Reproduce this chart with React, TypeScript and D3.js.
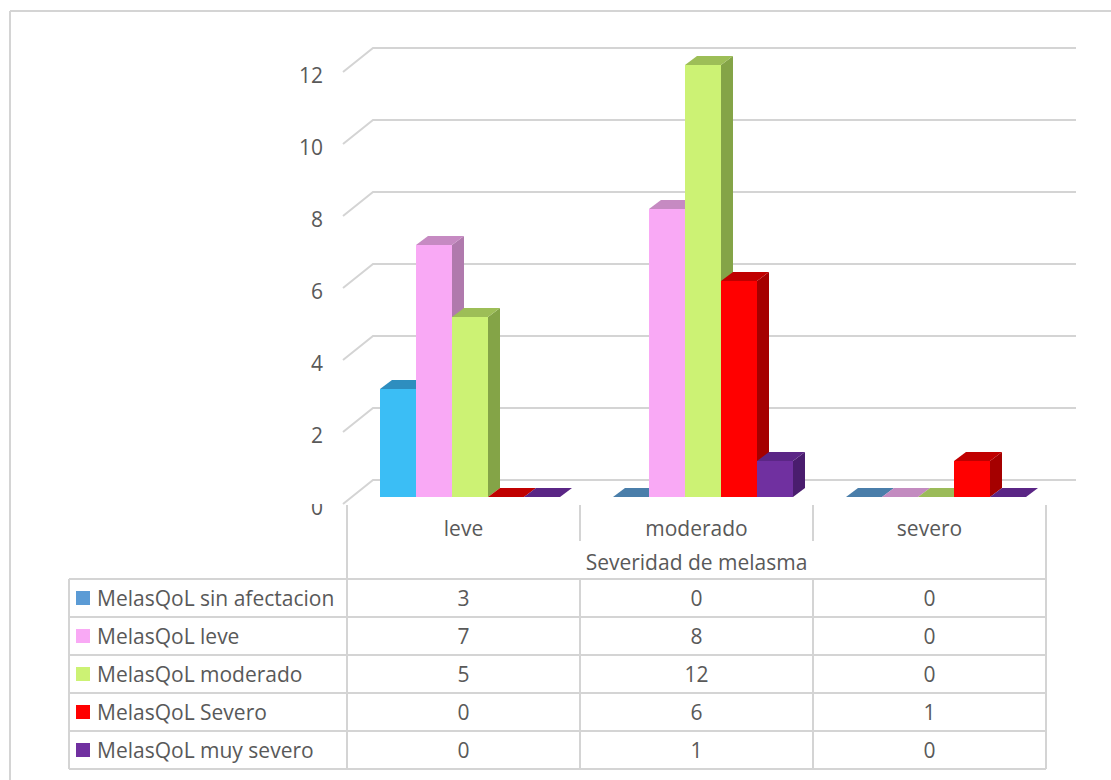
import React from "react";
import * as d3 from "d3";

const categories = ["leve", "moderado", "severo"];
const seriesNames = [
  "MelasQoL sin afectacion",
  "MelasQoL leve",
  "MelasQoL moderado",
  "MelasQoL Severo",
  "MelasQoL muy severo",
];
const seriesValues: number[][] = [
  [3, 0, 0],
  [7, 8, 0],
  [5, 12, 0],
  [0, 6, 1],
  [0, 1, 0],
];
const yTicks = [0, 2, 4, 6, 8, 10, 12];
const axisTitle = "Severidad de melasma";

const legendColors = ["#5B9BD5", "#F9A9F5", "#CCF274", "#FF0000", "#7030A0"];
const frontColors = ["#3BBEF5", "#F9A9F5", "#CCF274", "#FF0000", "#7030A0"];
const sideColors = ["#2A86B5", "#B07AAD", "#84A447", "#A50000", "#4A1D6E"];
const topColors = ["#2E8EBF", "#C68AC2", "#9DBE57", "#C00000", "#5B2686"];
const flatColors = ["#4A7EAA", "#C38BC0", "#9BBB59", "#C00000", "#5A2585"];

const FONT = "'Open Sans', sans-serif";
const TXT = "#595959";
const GRID = "#D4D4D4";
const FS = 21;

export default function App() {
  const yBack = d3.scaleLinear().domain([0, 12]).range([480, 48]);
  const wallLeft = 373;
  const wallRight = 1076;
  const depthX = -30;
  const depthY = 24;
  const barFrontOffset = 17;
  const bdx = 12;
  const bdy = -9;

  const tableLeft = 69;
  const legendRight = 347;
  const tableRight = 1046;
  const xCat = d3.scaleBand<string>().domain(categories).range([legendRight, tableRight]);
  const xSeries = d3
    .scaleBand<string>()
    .domain(seriesNames)
    .range([33, 33 + 36 * seriesNames.length]);

  const rowTop = 579;
  const rowH = 38;
  const rows = d3.range(seriesNames.length + 1).map((i) => rowTop + i * rowH);

  const bars: React.ReactNode[] = [];
  categories.forEach((cat, ci) => {
    seriesNames.forEach((s, si) => {
      const v = seriesValues[si][ci];
      const x0 = (xCat(cat) as number) + (xSeries(s) as number);
      const w = xSeries.bandwidth();
      const yb = yBack(0) + barFrontOffset;
      const yt = yBack(v) + barFrontOffset;
      const key = `${ci}-${si}`;
      if (v === 0) {
        bars.push(
          <polygon
            key={key}
            points={`${x0},${yb} ${x0 + w},${yb} ${x0 + w + bdx},${yb + bdy} ${x0 + bdx},${yb + bdy}`}
            fill={flatColors[si]}
          />
        );
      } else {
        bars.push(
          <g key={key}>
            <polygon
              points={`${x0 + w},${yt} ${x0 + w + bdx},${yt + bdy} ${x0 + w + bdx},${yb + bdy} ${x0 + w},${yb}`}
              fill={sideColors[si]}
            />
            <polygon
              points={`${x0},${yt} ${x0 + w},${yt} ${x0 + w + bdx},${yt + bdy} ${x0 + bdx},${yt + bdy}`}
              fill={topColors[si]}
            />
            <rect x={x0} y={yt} width={w} height={yb - yt} fill={frontColors[si]} />
          </g>
        );
      }
    });
  });

  return (
    <svg
      width={1111}
      height={780}
      style={{ position: "absolute", left: 0, top: 0, background: "#fff" }}
      fontFamily={FONT}
    >
      <defs>
        <clipPath id="zeroClip">
          <rect x={250} y={504} width={100} height={40} />
        </clipPath>
      </defs>
      <line x1={10} y1={11} x2={1111} y2={11} stroke={GRID} strokeWidth={2} />
      <line x1={10} y1={11} x2={10} y2={780} stroke={GRID} strokeWidth={2} />

      {yTicks.map((t) => (
        <path
          key={t}
          d={`M${wallLeft + depthX},${yBack(t) + depthY} L${wallLeft},${yBack(t)} L${wallRight},${yBack(t)}`}
          fill="none"
          stroke={GRID}
          strokeWidth={2}
        />
      ))}
      {yTicks.map((t) => (
        <text
          key={t}
          x={323}
          y={yBack(t) + depthY + 3}
          textAnchor="end"
          dominantBaseline="central"
          fontSize={FS}
          fill={TXT}
          clipPath={t === 0 ? "url(#zeroClip)" : undefined}
        >
          {t}
        </text>
      ))}

      {bars}

      <line x1={legendRight} y1={505} x2={legendRight} y2={rows[rows.length - 1]} stroke={GRID} strokeWidth={2} />
      <line x1={tableRight} y1={505} x2={tableRight} y2={rows[rows.length - 1]} stroke={GRID} strokeWidth={2} />
      {categories.slice(1).map((c) => (
        <line key={c} x1={xCat(c) as number} y1={505} x2={xCat(c) as number} y2={541} stroke={GRID} strokeWidth={2} />
      ))}
      {categories.slice(1).map((c) => (
        <line key={"r" + c} x1={xCat(c) as number} y1={rowTop} x2={xCat(c) as number} y2={rows[rows.length - 1]} stroke={GRID} strokeWidth={2} />
      ))}
      <line x1={tableLeft} y1={rowTop} x2={tableLeft} y2={rows[rows.length - 1]} stroke={GRID} strokeWidth={2} />
      {rows.map((y, i) => (
        <line key={i} x1={tableLeft} y1={y} x2={tableRight} y2={y} stroke={GRID} strokeWidth={2} />
      ))}

      {categories.map((c) => (
        <text
          key={c}
          x={(xCat(c) as number) + xCat.bandwidth() / 2}
          y={528}
          textAnchor="middle"
          dominantBaseline="central"
          fontSize={FS}
          fill={TXT}
        >
          {c}
        </text>
      ))}
      <text
        x={(legendRight + tableRight) / 2}
        y={562}
        textAnchor="middle"
        dominantBaseline="central"
        fontSize={FS}
        fill={TXT}
      >
        {axisTitle}
      </text>

      {seriesNames.map((s, si) => {
        const cy = rows[si] + rowH / 2;
        return (
          <g key={s}>
            <rect x={76} y={cy - 7} width={14} height={14} fill={legendColors[si]} />
            <text x={97} y={cy} dominantBaseline="central" fontSize={FS} fill={TXT}>
              {s}
            </text>
            {categories.map((c, ci) => (
              <text
                key={c}
                x={(xCat(c) as number) + xCat.bandwidth() / 2}
                y={cy}
                textAnchor="middle"
                dominantBaseline="central"
                fontSize={FS}
                fill={TXT}
              >
                {seriesValues[si][ci]}
              </text>
            ))}
          </g>
        );
      })}
    </svg>
  );
}
